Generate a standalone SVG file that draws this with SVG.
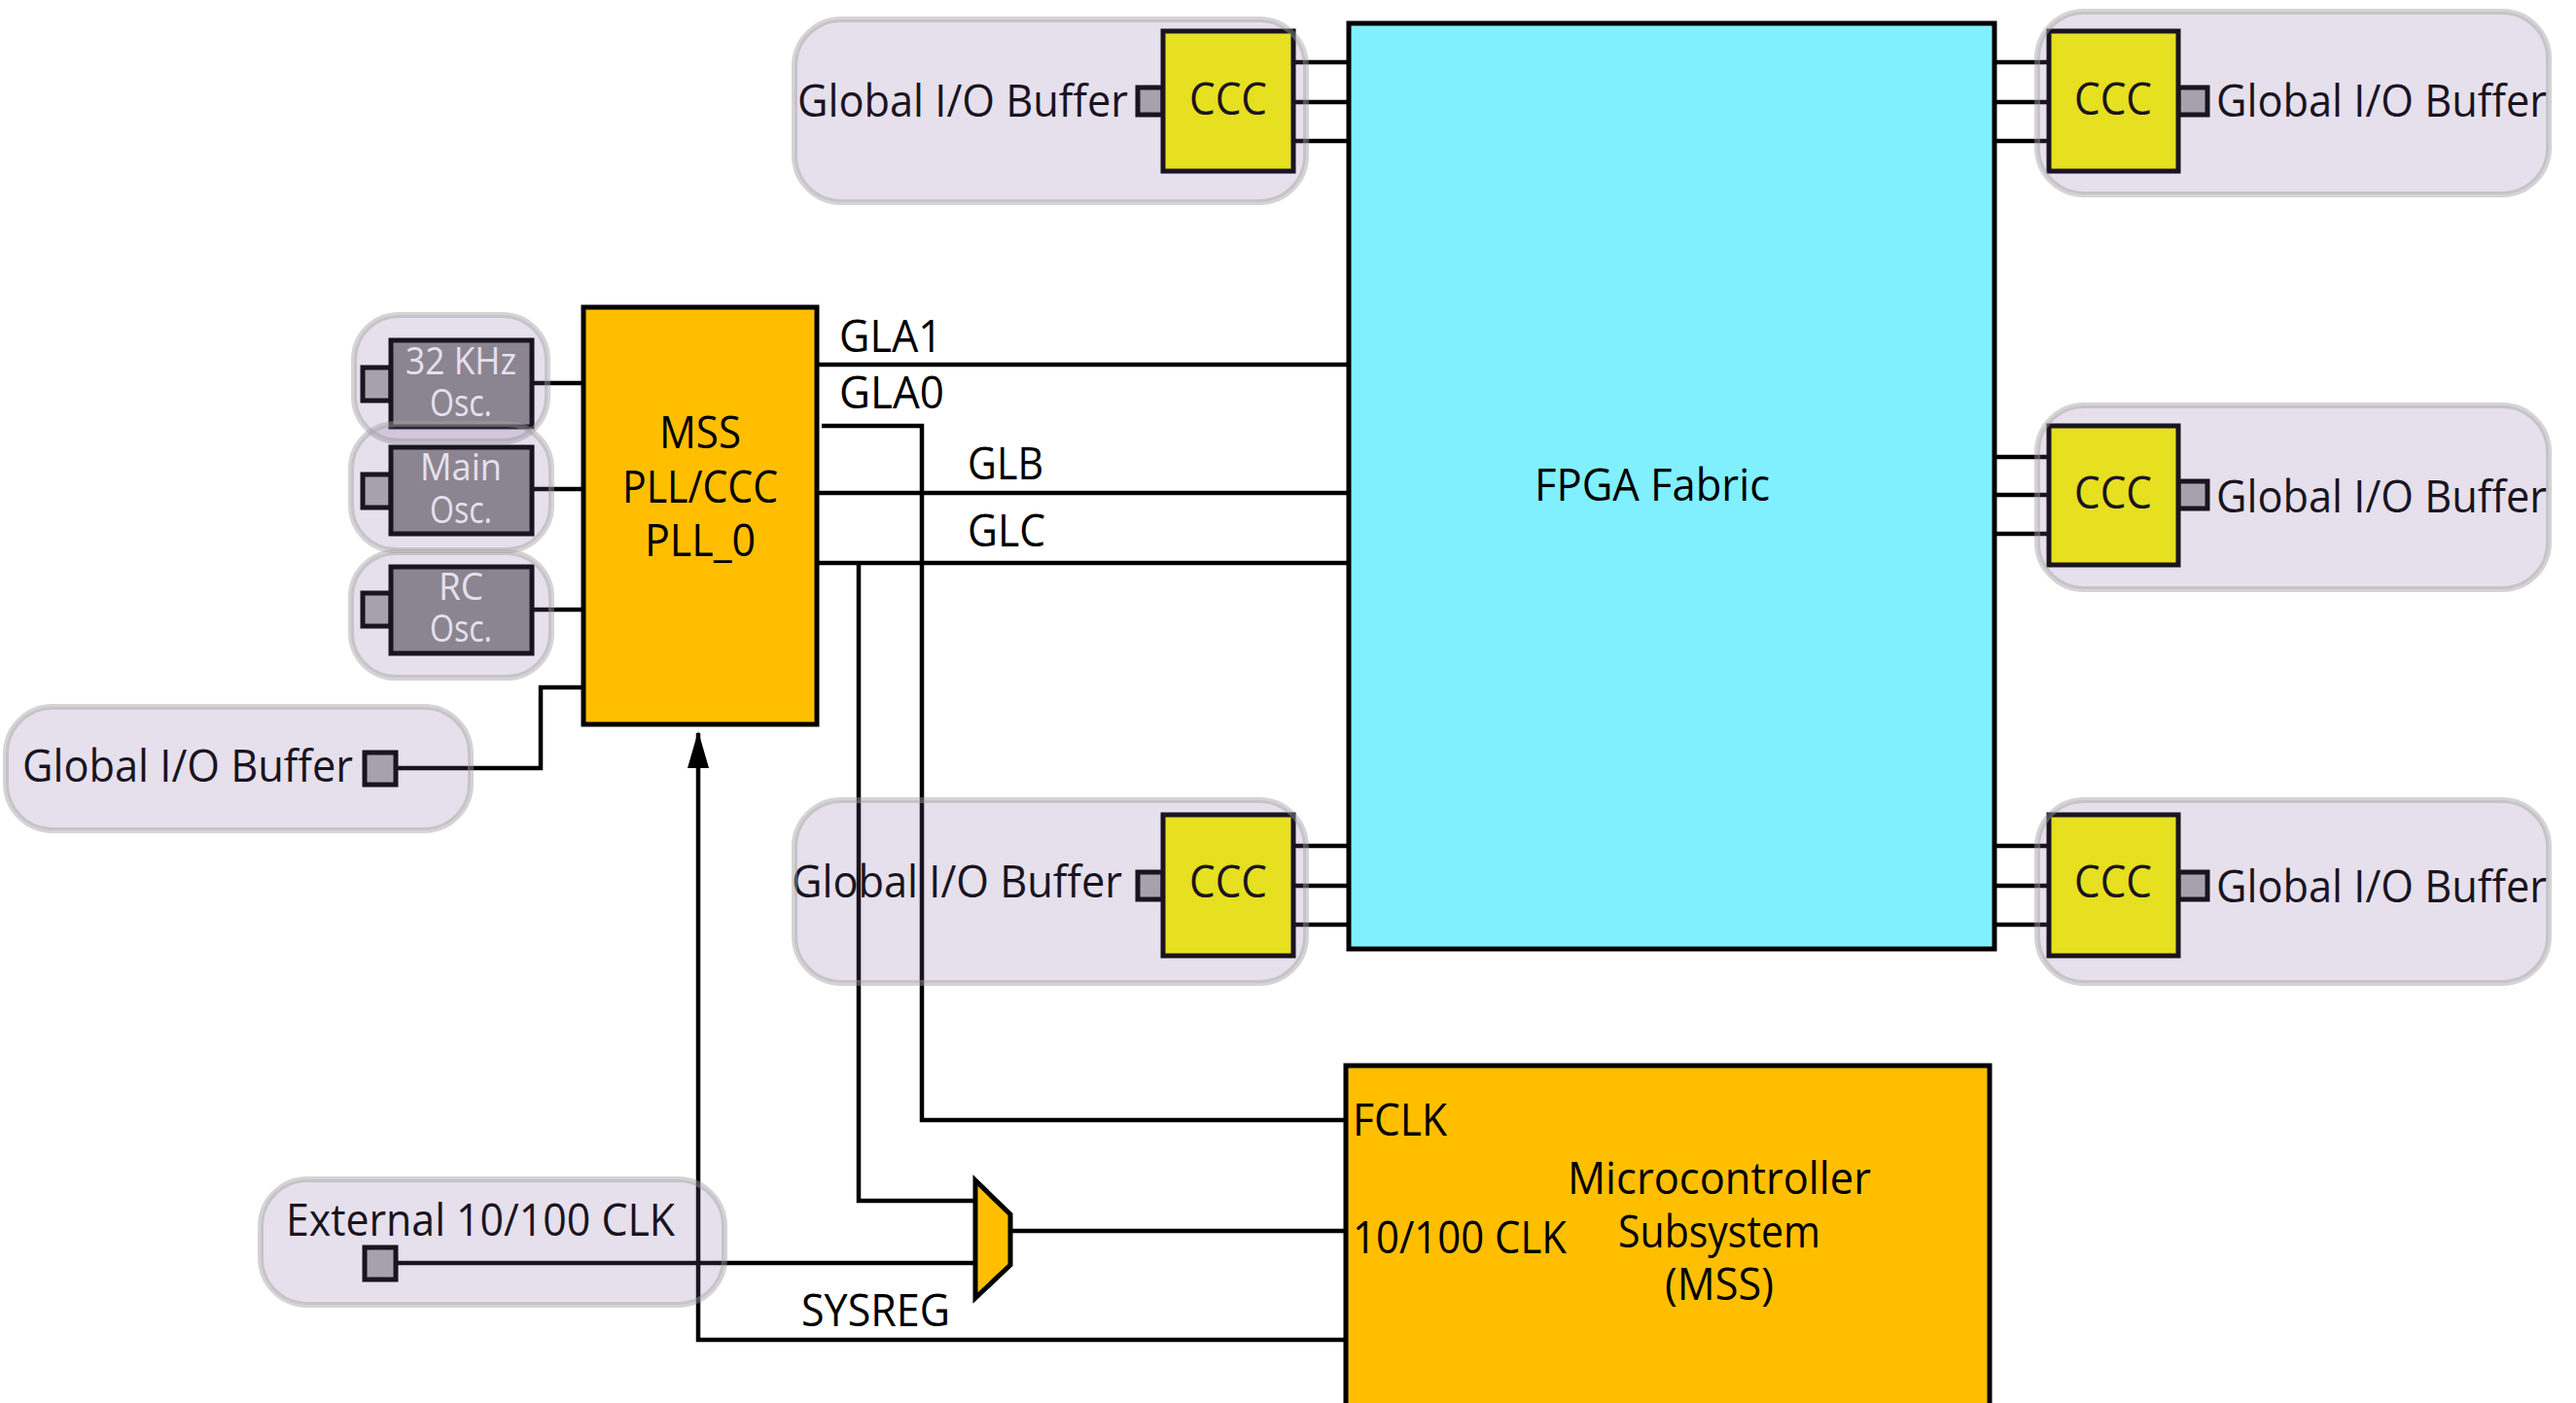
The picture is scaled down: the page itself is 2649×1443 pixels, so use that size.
<svg xmlns="http://www.w3.org/2000/svg" width="2649" height="1443" viewBox="0 0 2649 1443">
<style>
text{font-family:"Open Sans","Noto Sans","Liberation Sans",sans-serif;font-size:46px;fill:#000}
.w{fill:#fff;font-size:38px}
.c{stroke:#000;stroke-width:4.5;fill:none}
.b{stroke:#000;stroke-width:5}
.o{fill:#ffbf00}
.y{fill:#ffff00}
.p{fill:#b1b1b1}
.g{fill:#8e8e8e}
.v{fill:rgb(130,100,160);fill-opacity:.2;stroke:#a0a0a0;stroke-opacity:.45;stroke-width:6}
</style>
<defs><marker id="arr" markerUnits="userSpaceOnUse" markerWidth="38" markerHeight="22" refX="36" refY="11" orient="auto" viewBox="0 0 38 22"><path d="M38 11L0 22V0Z" fill="#000"/></marker></defs>
<rect width="2649" height="1443" fill="#fff"/>
<g id="connectors">
<path class="c" d="M1330 64H1387M1330 105H1387M1330 145H1387"/>
<path class="c" d="M2051 64H2107M2051 105H2107M2051 145H2107"/>
<path class="c" d="M2051 470H2107M2051 509H2107M2051 549H2107"/>
<path class="c" d="M2051 870H2107M2051 911H2107M2051 951H2107"/>
<path class="c" d="M1330 870H1387M1330 911H1387M1330 951H1387"/>
<path class="c" d="M547 394H600M549 503H600M547 627H600"/>
<path class="c" d="M407 790H556V707H600"/>
<path class="c" d="M840 375H1387"/>
<path class="c" d="M845 438H948V1152H1385"/>
<path class="c" d="M840 507H1387"/>
<path class="c" d="M840 579H1387"/>
<path class="c" d="M883 579V1235H1003"/>
<path class="c" d="M407 1299H1003"/>
<path class="c" d="M1039 1266H1385"/>
<path class="c" d="M1385 1378H718V754" marker-end="url(#arr)"/>
</g>
<g id="fpga"><rect class="b" x="1387" y="24" width="664" height="952" fill="#80f0ff"/><text x="1578" y="515" textLength="242" lengthAdjust="spacingAndGlyphs">FPGA Fabric</text></g>
<g id="pll"><rect class="b o" x="600" y="316" width="240" height="429"/>
<text x="720" y="461" text-anchor="middle" textLength="84" lengthAdjust="spacingAndGlyphs">MSS</text>
<text x="720" y="517" text-anchor="middle" textLength="160" lengthAdjust="spacingAndGlyphs">PLL/CCC</text>
<text x="720" y="572" text-anchor="middle" textLength="114" lengthAdjust="spacingAndGlyphs">PLL_0</text></g>
<g id="mss"><rect class="b o" x="1384" y="1096" width="662" height="360"/>
<text x="1391" y="1168" textLength="97" lengthAdjust="spacingAndGlyphs">FCLK</text>
<text x="1391" y="1289" textLength="220" lengthAdjust="spacingAndGlyphs">10/100 CLK</text>
<text x="1768" y="1228" text-anchor="middle" textLength="312" lengthAdjust="spacingAndGlyphs">Microcontroller</text>
<text x="1768" y="1283" text-anchor="middle" textLength="208" lengthAdjust="spacingAndGlyphs">Subsystem</text>
<text x="1768" y="1337" text-anchor="middle" textLength="112" lengthAdjust="spacingAndGlyphs">(MSS)</text></g>
<g id="mux"><path class="b o" d="M1003 1214L1039 1249V1301L1003 1335Z"/></g>
<g id="labels"><text x="863" y="362" textLength="106" lengthAdjust="spacingAndGlyphs">GLA1</text><text x="863" y="420" textLength="108" lengthAdjust="spacingAndGlyphs">GLA0</text><text x="995" y="493" textLength="78" lengthAdjust="spacingAndGlyphs">GLB</text><text x="995" y="562" textLength="80" lengthAdjust="spacingAndGlyphs">GLC</text><text x="824" y="1364" textLength="153" lengthAdjust="spacingAndGlyphs">SYSREG</text></g>
<g id="io-top-left"><rect class="b p" x="1170" y="90" width="26" height="28"/><rect class="b y" x="1196" y="32" width="134" height="144"/><text x="1263" y="118" text-anchor="middle" textLength="80" lengthAdjust="spacingAndGlyphs">CCC</text><text x="820" y="120" textLength="340" lengthAdjust="spacingAndGlyphs">Global I/O Buffer</text><rect class="v" x="817" y="20" width="526" height="188" rx="48"/></g>
<g id="io-top-right"><rect class="b p" x="2240" y="90" width="30" height="28"/><rect class="b y" x="2107" y="32" width="133" height="144"/><text x="2173" y="118" text-anchor="middle" textLength="80" lengthAdjust="spacingAndGlyphs">CCC</text><text x="2279" y="120" textLength="340" lengthAdjust="spacingAndGlyphs">Global I/O Buffer</text><rect class="v" x="2095" y="12" width="526" height="188" rx="48"/></g>
<g id="io-mid-right"><rect class="b p" x="2240" y="495" width="30" height="28"/><rect class="b y" x="2107" y="438" width="133" height="143"/><text x="2173" y="523" text-anchor="middle" textLength="80" lengthAdjust="spacingAndGlyphs">CCC</text><text x="2279" y="527" textLength="340" lengthAdjust="spacingAndGlyphs">Global I/O Buffer</text><rect class="v" x="2095" y="417" width="526" height="189" rx="48"/></g>
<g id="io-bot-right"><rect class="b p" x="2240" y="897" width="30" height="28"/><rect class="b y" x="2107" y="838" width="133" height="145"/><text x="2173" y="923" text-anchor="middle" textLength="80" lengthAdjust="spacingAndGlyphs">CCC</text><text x="2279" y="928" textLength="340" lengthAdjust="spacingAndGlyphs">Global I/O Buffer</text><rect class="v" x="2095" y="823" width="526" height="188" rx="48"/></g>
<g id="io-bot-left"><rect class="b p" x="1170" y="897" width="26" height="28"/><rect class="b y" x="1196" y="838" width="134" height="145"/><text x="1263" y="923" text-anchor="middle" textLength="80" lengthAdjust="spacingAndGlyphs">CCC</text><text x="814" y="923" textLength="340" lengthAdjust="spacingAndGlyphs">Global I/O Buffer</text><rect class="v" x="817" y="823" width="526" height="188" rx="48"/></g>
<g id="osc-32"><rect class="b p" x="373" y="378" width="29" height="34"/><rect class="b g" x="402" y="350" width="145" height="89"/><text class="w" x="474" y="385" text-anchor="middle" textLength="114" lengthAdjust="spacingAndGlyphs">32 KHz</text><text class="w" x="474" y="428" text-anchor="middle" textLength="64" lengthAdjust="spacingAndGlyphs">Osc.</text><rect class="v" x="364" y="324" width="199" height="130" rx="46"/></g>
<g id="osc-main"><rect class="b p" x="373" y="488" width="29" height="34"/><rect class="b g" x="402" y="460" width="145" height="89"/><text class="w" x="474" y="494" text-anchor="middle" textLength="84" lengthAdjust="spacingAndGlyphs">Main</text><text class="w" x="474" y="538" text-anchor="middle" textLength="64" lengthAdjust="spacingAndGlyphs">Osc.</text><rect class="v" x="361" y="436" width="206" height="130" rx="46"/></g>
<g id="osc-rc"><rect class="b p" x="373" y="610" width="29" height="34"/><rect class="b g" x="402" y="583" width="145" height="89"/><text class="w" x="474" y="617" text-anchor="middle" textLength="46" lengthAdjust="spacingAndGlyphs">RC</text><text class="w" x="474" y="660" text-anchor="middle" textLength="64" lengthAdjust="spacingAndGlyphs">Osc.</text><rect class="v" x="361" y="568" width="206" height="129" rx="46"/></g>
<g id="io-left"><rect class="b p" x="375" y="774" width="32" height="33"/><text x="23" y="804" textLength="340" lengthAdjust="spacingAndGlyphs">Global I/O Buffer</text><rect class="v" x="6" y="727" width="478" height="127" rx="48"/></g>
<g id="ext-clk"><rect class="b p" x="375" y="1283" width="32" height="33"/><text x="294" y="1271" textLength="400" lengthAdjust="spacingAndGlyphs">External 10/100 CLK</text><rect class="v" x="268" y="1213" width="477" height="129" rx="48"/></g>
</svg>
